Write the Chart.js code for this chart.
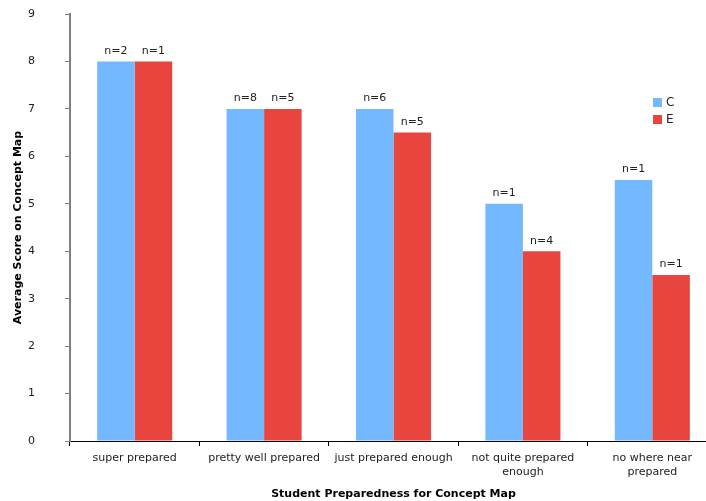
<!DOCTYPE html>
<html>
<head>
<meta charset="utf-8">
<script src="https://cdn.jsdelivr.net/npm/chart.js@4/dist/chart.umd.min.js"></script>
<style>
  html, body { margin: 0; padding: 0; background: #fff; overflow: hidden; }
  #wrap { width: 720px; height: 501px; }
</style>
</head>
<body>
<div id="wrap"><canvas id="chartPrep" width="720" height="501"></canvas></div>
<script>
// データ
var categories = ['super prepared', 'pretty well prepared', 'just prepared enough',
    ['not quite prepared', 'enough'], ['no where near', 'prepared']];
var scores_c = [8, 7, 7, 5, 5.5];
var scores_e = [8, 7, 6.5, 4, 3.5];
var counts_c = ['n=2', 'n=8', 'n=6', 'n=1', 'n=1'];
var counts_e = ['n=1', 'n=5', 'n=5', 'n=4', 'n=1'];

var font_name = '"DejaVu Sans", Verdana, sans-serif';

// バーの上に n= を描く
var countLabels = {
    id: 'countLabels',
    afterDatasetsDraw: function (chart) {
        var ctx = chart.ctx;
        ctx.save();
        ctx.font = '11px ' + font_name;
        ctx.fillStyle = '#222';
        ctx.textAlign = 'center';
        ctx.textBaseline = 'bottom';
        chart.data.datasets.forEach(function (ds, i) {
            chart.getDatasetMeta(i).data.forEach(function (bar, j) {
                ctx.fillText(ds.counts[j], bar.x, bar.y - 5);
            });
        });
        ctx.restore();
    }
};

// 凡例（右上）
var sideLegend = {
    id: 'sideLegend',
    afterDraw: function (chart) {
        var ctx = chart.ctx;
        ctx.save();
        ctx.font = '12px ' + font_name;
        ctx.textBaseline = 'middle';
        chart.data.datasets.forEach(function (ds, i) {
            var y = 98 + i * 17;
            ctx.fillStyle = ds.backgroundColor;
            ctx.fillRect(653, y, 9, 9);
            ctx.fillStyle = '#222';
            ctx.fillText(ds.label, 666, y + 5);
        });
        ctx.restore();
    }
};

var ctx_prep = document.getElementById('chartPrep').getContext('2d');
var chart_prep = new Chart(ctx_prep, {
    type: 'bar',
    data: {
        labels: categories,
        datasets: [{
            label: 'C',
            data: scores_c,
            counts: counts_c,
            backgroundColor: '#74b9ff'
        }, {
            label: 'E',
            data: scores_e,
            counts: counts_e,
            backgroundColor: '#e8453f'
        }]
    },
    options: {
        responsive: false,
        animation: false,
        layout: { padding: { top: 14, right: 3, left: 0, bottom: 0 } },
        datasets: { bar: { categoryPercentage: 0.58, barPercentage: 1.0, borderWidth: 0 } },
        plugins: {
            legend: { display: false },
            tooltip: { enabled: false }
        },
        scales: {
            x: {
                grid: { offset: true, drawOnChartArea: false, tickLength: 5, color: '#000' },
                border: { color: '#000', width: 1 },
                ticks: { color: '#222', padding: 6, font: { family: font_name, size: 11 } },
                title: {
                    display: true,
                    text: 'Student Preparedness for Concept Map',
                    color: '#000',
                    font: { family: font_name, size: 11, weight: 'bold' },
                    padding: { top: 4, bottom: 0 }
                },
                afterFit: function (scale) {
                    scale.height = 60;
                    scale.paddingLeft = 0;
                    scale.paddingRight = 0;
                }
            },
            y: {
                min: 0,
                max: 9,
                ticks: { stepSize: 1, color: '#222', padding: 30, font: { family: font_name, size: 11 } },
                grid: { drawOnChartArea: false, tickLength: 5, color: '#808080' },
                border: { color: '#808080', width: 2 },
                title: {
                    display: true,
                    text: 'Average Score on Concept Map',
                    color: '#000',
                    font: { family: font_name, size: 11, weight: 'bold' },
                    padding: { top: 12, bottom: 0 }
                },
                afterFit: function (scale) {
                    scale.width = 70;
                    scale.paddingTop = 0;
                    scale.paddingBottom = 0;
                }
            }
        }
    },
    plugins: [countLabels, sideLegend]
});
</script>
</body>
</html>
